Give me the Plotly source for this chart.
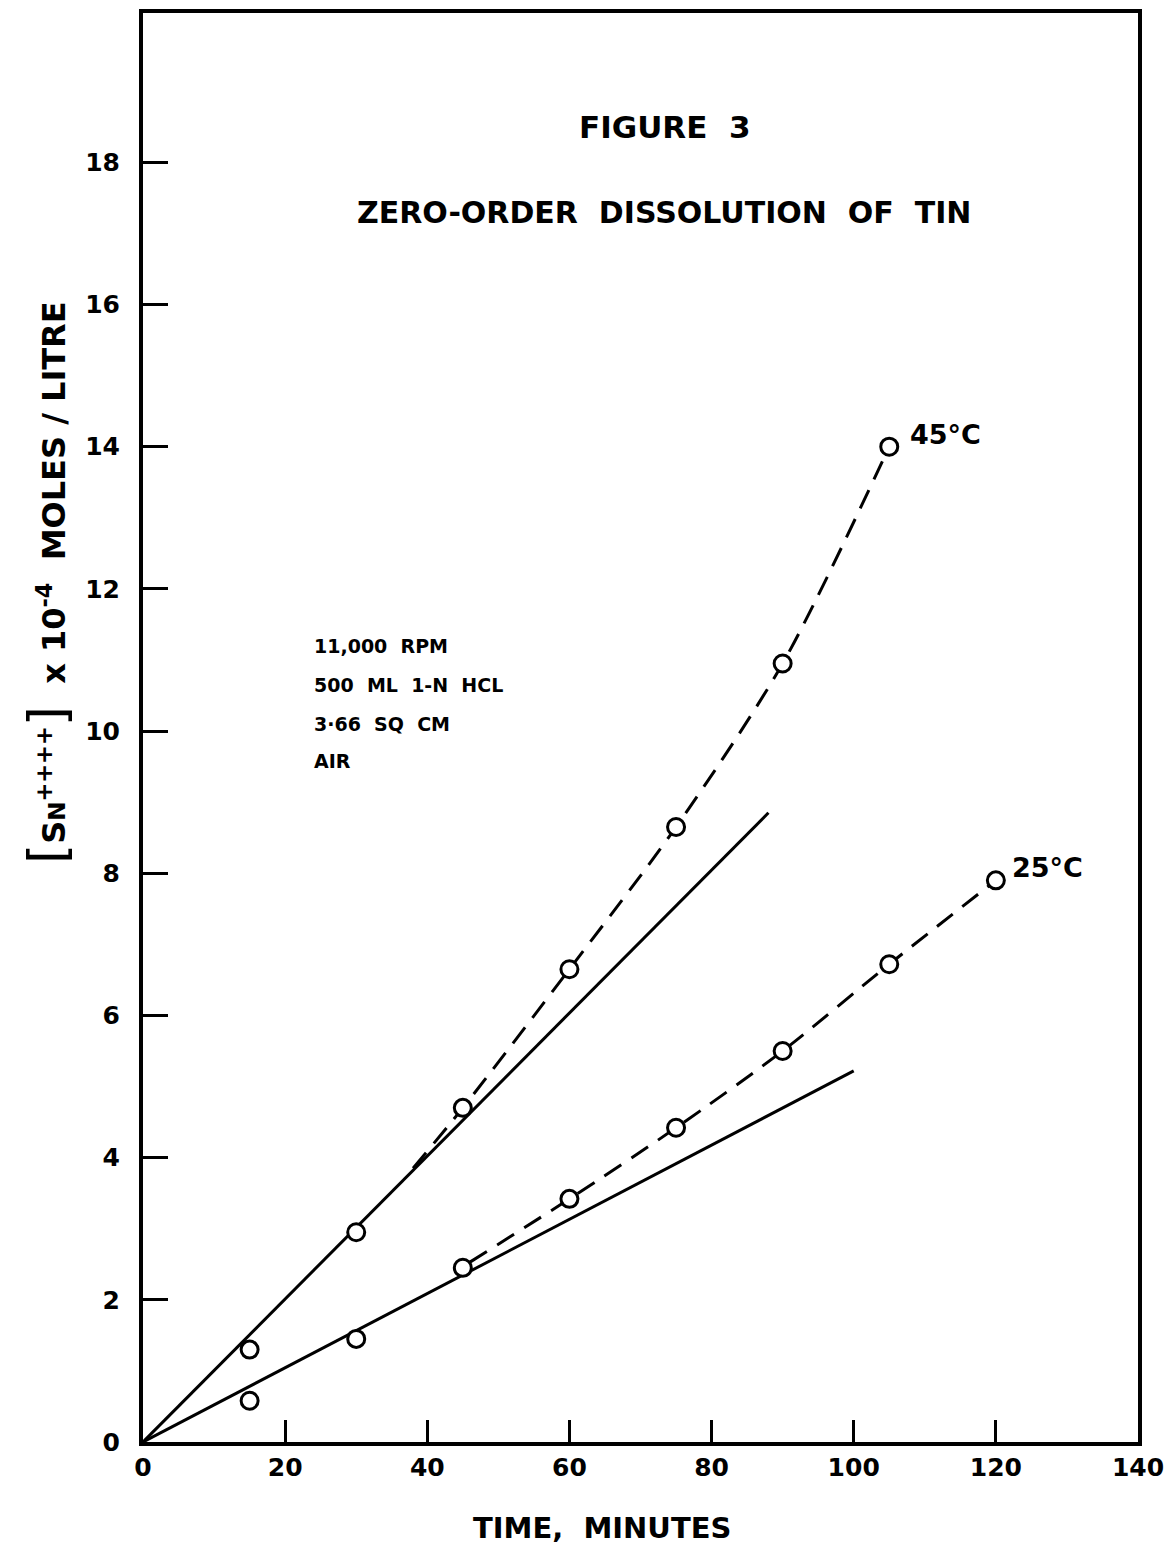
import plotly.graph_objects as go

# ---- data ----
time_45 = [15, 30, 45, 60, 75, 90, 105]
conc_45 = [1.3, 2.95, 4.7, 6.65, 8.65, 10.95, 14.0]
time_25 = [15, 30, 45, 60, 75, 90, 105, 120]
conc_25 = [0.58, 1.45, 2.45, 3.42, 4.42, 5.5, 6.72, 7.9]

fit_45_x = [0, 88]
fit_45_y = [0, 8.85]
fit_25_x = [0, 100]
fit_25_y = [0, 5.22]

curve_45_x = [38, 45, 60, 75, 90, 105]
curve_45_y = [3.85, 4.7, 6.65, 8.65, 10.95, 14.0]
curve_25_x = [46, 60, 75, 90, 105, 120]
curve_25_y = [2.53, 3.42, 4.42, 5.5, 6.72, 7.9]

x_ticks = [0, 20, 40, 60, 80, 100, 120, 140]
y_ticks = [0, 2, 4, 6, 8, 10, 12, 14, 16, 18]

FONT = "DejaVu Sans"
W, H = 1169, 1549
L, R, T, B = 143, 1138, 13, 1442


def px(x, y):
    # x, y given in screen pixels of the reference
    return (x - L) / (R - L), (B - y) / (B - T)


fig = go.Figure()
line_style = dict(color="black", width=3)
fig.add_trace(go.Scatter(x=fit_45_x, y=fit_45_y, mode="lines", line=line_style,
                         showlegend=False, hoverinfo="skip"))
fig.add_trace(go.Scatter(x=fit_25_x, y=fit_25_y, mode="lines", line=line_style,
                         showlegend=False, hoverinfo="skip"))
dash_style = dict(color="black", width=3, dash="20px,12px", shape="spline", smoothing=0.8)
fig.add_trace(go.Scatter(x=curve_45_x, y=curve_45_y, mode="lines", line=dash_style,
                         showlegend=False, hoverinfo="skip"))
fig.add_trace(go.Scatter(x=curve_25_x, y=curve_25_y, mode="lines", line=dash_style,
                         showlegend=False, hoverinfo="skip"))
marker_style = dict(symbol="circle", size=17, color="white", line=dict(color="black", width=3))
fig.add_trace(go.Scatter(x=time_45, y=conc_45, mode="markers", marker=marker_style,
                         name="45°C", showlegend=False))
fig.add_trace(go.Scatter(x=time_25, y=conc_25, mode="markers", marker=marker_style,
                         name="25°C", showlegend=False))

tick_font = dict(family=FONT, size=25, color="black", weight="bold")

fig.update_xaxes(range=[0, 140], tickvals=x_ticks, ticktext=[str(v) for v in x_ticks],
                 ticks="inside", ticklen=22, tickwidth=3, tickcolor="black",
                 showline=True, linewidth=4, linecolor="black", mirror=True,
                 showgrid=False, zeroline=False, tickfont=tick_font,
                 ticklabeloverflow="allow")
fig.update_yaxes(range=[0, 20.1], tickvals=y_ticks, ticktext=[str(v) for v in y_ticks],
                 ticks="inside", ticklen=25, tickwidth=3, tickcolor="black",
                 showline=True, linewidth=4, linecolor="black", mirror=True,
                 showgrid=False, zeroline=False, tickfont=tick_font,
                 ticklabelstandoff=14)

ann = []


def add_text(text, x, y, size, xanchor="center", angle=0, bold=True):
    xp, yp = px(x, y)
    ann.append(dict(text=text, x=xp, y=yp, xref="paper", yref="paper",
                    xanchor=xanchor, yanchor="middle", showarrow=False,
                    textangle=angle,
                    font=dict(family=FONT, size=size, color="black",
                              weight="bold" if bold else "normal")))


add_text("FIGURE  3", 665, 127, 31)
add_text("ZERO-ORDER  DISSOLUTION  OF  TIN", 664, 213, 30)
add_text("TIME,  MINUTES", 602, 1528, 29)
add_text("11,000  RPM", 312, 646, 19, xanchor="left")
add_text("500  ML  1-N  HCL", 312, 685, 19, xanchor="left")
add_text("3·66  SQ  CM", 312, 724, 19, xanchor="left")
add_text("AIR", 312, 761, 19, xanchor="left")
add_text("<span style='font-size:52px;font-weight:normal'>[</span>S<span style='font-size:23px'>N</span>"
         "<sup>++++</sup><span style='font-size:52px;font-weight:normal'>]</span>"
         "  x 10<sup>-4</sup>  MOLES / LITRE", 47, 583, 32, angle=-90)

fig.update_layout(annotations=ann)

# temperature labels next to the last points
fig.add_annotation(x=time_45[-1], y=conc_45[-1], text="45°C", showarrow=False,
                   xanchor="left", yanchor="middle", xshift=19, yshift=12,
                   font=dict(family=FONT, size=27, color="black", weight="bold"))
fig.add_annotation(x=time_25[-1], y=conc_25[-1], text="25°C", showarrow=False,
                   xanchor="left", yanchor="middle", xshift=14, yshift=13,
                   font=dict(family=FONT, size=27, color="black", weight="bold"))

fig.update_layout(width=W, height=H, paper_bgcolor="white", plot_bgcolor="white",
                  margin=dict(l=L, r=W - R, t=T, b=H - B, autoexpand=False),
                  showlegend=False)

fig.write_html("out.html",
               config={"displayModeBar": False},
               post_script="document.body.style.margin='0';"
                           "document.body.style.overflow='hidden';")
